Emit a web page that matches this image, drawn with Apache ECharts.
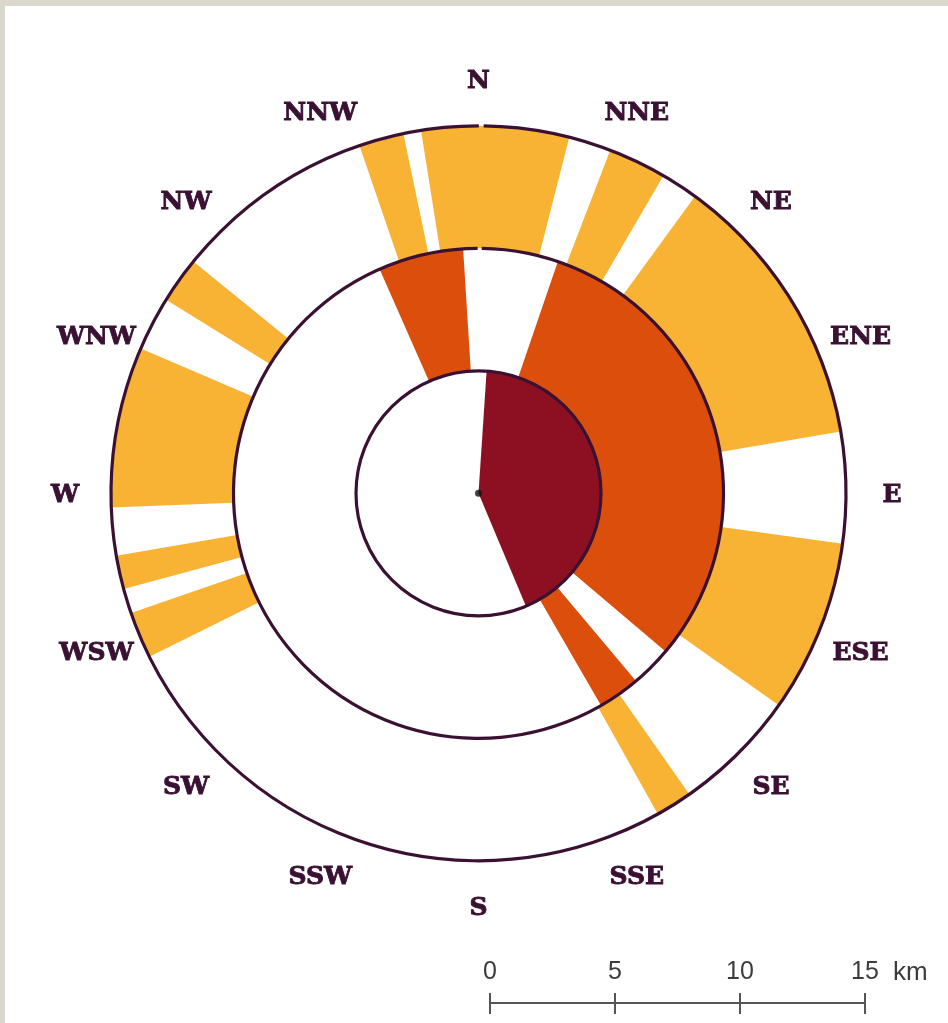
<!DOCTYPE html>
<html>
<head>
<meta charset="utf-8">
<title>Zone rose</title>
<script src="https://cdn.jsdelivr.net/npm/echarts@6/dist/echarts.min.js"></script>
<style>
  html, body { margin: 0; padding: 0; background: #dbd7cd; }
  #chart { position: absolute; left: 5px; top: 6px; width: 943px; height: 1017px; background: #fff; }
</style>
</head>
<body>
<div id="chart"></div>
<script>
// compass labels round the rose
const dirNames = ['N', 'NNE', 'NE', 'ENE', 'E', 'ESE', 'SE', 'SSE', 'S', 'SSW', 'SW', 'WSW', 'W', 'WNW', 'NW', 'NNW'];
const dirAngles = [0, 22.5, 45, 67.5, 90, 112.5, 135, 157.5, 180, 202.5, 225, 247.5, 270, 292.5, 315, 337.5];

// ring limits in km
const ringRadii = [5, 10, 15];

// filled bands [from, to] in degrees clockwise from north
const innerBands = [[3.8, 157.2]];
const middleBands = [[336.2, 356.4], [18.9, 130.2], [140, 150]];
const outerBands = [[341.1, 348.2], [351, 14.3], [21, 30.2], [36.1, 80.3], [97.9, 125.2],
  [145, 150.8], [243.6, 251], [254.9, 260.2], [267.8, 293.2], [301.8, 309.1]];

// scale bar ticks (km)
const scaleTicks = [0, 5, 10, 15];

let chart = echarts.init(document.getElementById('chart'));

const ringColor = '#3a1133';
const barColor = '#555';
// small break in the two outer rings just right of north
const ringGaps = [null, [-0.2, 0.75], [0.05, 0.8]];

function screenAngle(c, p) {
  return Math.atan2(p[1] - c[1], p[0] - c[0]);
}

function renderBand(params, api) {
  let r0 = api.value(0), r1 = api.value(1), a0 = api.value(2), a1 = api.value(3);
  let c = api.coord([0, 0]);
  let pa = api.coord([r1, a0]);
  let pb = api.coord([r1, a1]);
  let pi = api.coord([r0, a0]);
  let s = screenAngle(c, pa);
  let e = screenAngle(c, pb);
  if (e <= s) e += Math.PI * 2;
  return {
    type: 'sector',
    shape: {
      cx: c[0], cy: c[1],
      r0: Math.hypot(pi[0] - c[0], pi[1] - c[1]),
      r: Math.hypot(pa[0] - c[0], pa[1] - c[1]),
      startAngle: s, endAngle: e, clockwise: true
    },
    style: {fill: api.visual('color')}
  };
}

function renderRing(params, api) {
  let r = api.value(0);
  let c = api.coord([0, 0]);
  let gap = ringGaps[params.dataIndex];
  let p = api.coord([r, 0]);
  let rad = Math.hypot(p[0] - c[0], p[1] - c[1]);
  let style = {stroke: ringColor, lineWidth: 3.2, fill: null};
  if (!gap) {
    return {type: 'circle', shape: {cx: c[0], cy: c[1], r: rad}, style: style};
  }
  let s = screenAngle(c, api.coord([r, gap[1]]));
  let e = screenAngle(c, api.coord([r, gap[0]]));
  if (e <= s) e += Math.PI * 2;
  return {
    type: 'arc',
    shape: {cx: c[0], cy: c[1], r: rad, startAngle: s, endAngle: e, clockwise: true},
    style: style
  };
}

function renderDir(params, api) {
  let p = api.coord([api.value(0), api.value(1)]);
  return {
    type: 'text',
    x: p[0], y: p[1] + 2,
    style: {
      text: dirNames[params.dataIndex],
      fill: ringColor,
      stroke: ringColor,
      lineWidth: 0.9,
      fontFamily: 'DejaVu Serif',
      fontWeight: 'bold',
      fontSize: 25,
      align: 'center',
      verticalAlign: 'middle'
    }
  };
}

function bandSeries(name, bands, r0, r1, color) {
  return {
    name: name,
    type: 'custom',
    coordinateSystem: 'polar',
    renderItem: renderBand,
    itemStyle: {color: color},
    data: bands.map(b => [r0, r1, b[0], b[1]]),
    silent: true
  };
}

let option = {
  animation: false,
  backgroundColor: '#fff',
  polar: {
    center: [473.5, 487.3],
    radius: 416.5
  },
  angleAxis: {
    type: 'value', min: 0, max: 360, startAngle: 90, clockwise: true, show: false
  },
  radiusAxis: {
    type: 'value', min: 0, max: 17, show: false
  },
  // two grids on the same spot: one for ticks above the bar, one for ticks below
  grid: [
    {left: 485, width: 375, top: 940, height: 57},
    {left: 485, width: 375, top: 940, height: 57}
  ],
  xAxis: [
    {
      type: 'value', gridIndex: 0, position: 'bottom',
      min: 0, max: 15, interval: 5,
      name: 'km', nameLocation: 'end', nameGap: 28,
      nameTextStyle: {
        color: '#3c3c3c', fontSize: 26, fontFamily: 'Liberation Sans',
        verticalAlign: 'bottom', padding: [0, 0, 17, 0]
      },
      axisLine: {lineStyle: {color: barColor, width: 2}},
      axisTick: {inside: true, length: 10, lineStyle: {color: barColor, width: 2}},
      axisLabel: {
        inside: true, margin: 18, fontSize: 25, color: '#3c3c3c', fontFamily: 'Liberation Sans',
        customValues: scaleTicks
      },
      splitLine: {show: false}
    },
    {
      type: 'value', gridIndex: 1, position: 'bottom',
      min: 0, max: 15, interval: 5,
      axisLine: {show: false},
      axisTick: {length: 11, lineStyle: {color: barColor, width: 2}},
      axisLabel: {show: false},
      splitLine: {show: false}
    }
  ],
  yAxis: [
    {type: 'value', gridIndex: 0, show: false, min: 0, max: 1},
    {type: 'value', gridIndex: 1, show: false, min: 0, max: 1}
  ],
  series: [
    bandSeries('0-5 km', innerBands, 0, ringRadii[0], '#8c1022'),
    bandSeries('5-10 km', middleBands, ringRadii[0], ringRadii[1], '#dc4e0c'),
    bandSeries('10-15 km', outerBands, ringRadii[1], ringRadii[2], '#f8b334'),
    {
      name: 'rings',
      type: 'custom',
      coordinateSystem: 'polar',
      renderItem: renderRing,
      data: ringRadii.map(r => [r, 0]),
      silent: true
    },
    {
      name: 'centre',
      type: 'scatter',
      coordinateSystem: 'polar',
      symbolSize: 7,
      itemStyle: {color: '#111'},
      data: [[0, 0]],
      silent: true
    },
    {
      name: 'directions',
      type: 'custom',
      coordinateSystem: 'polar',
      renderItem: renderDir,
      data: dirAngles.map(a => [16.88, a]),
      silent: true
    }
  ]
};
chart.setOption(option);
</script>
</body>
</html>
